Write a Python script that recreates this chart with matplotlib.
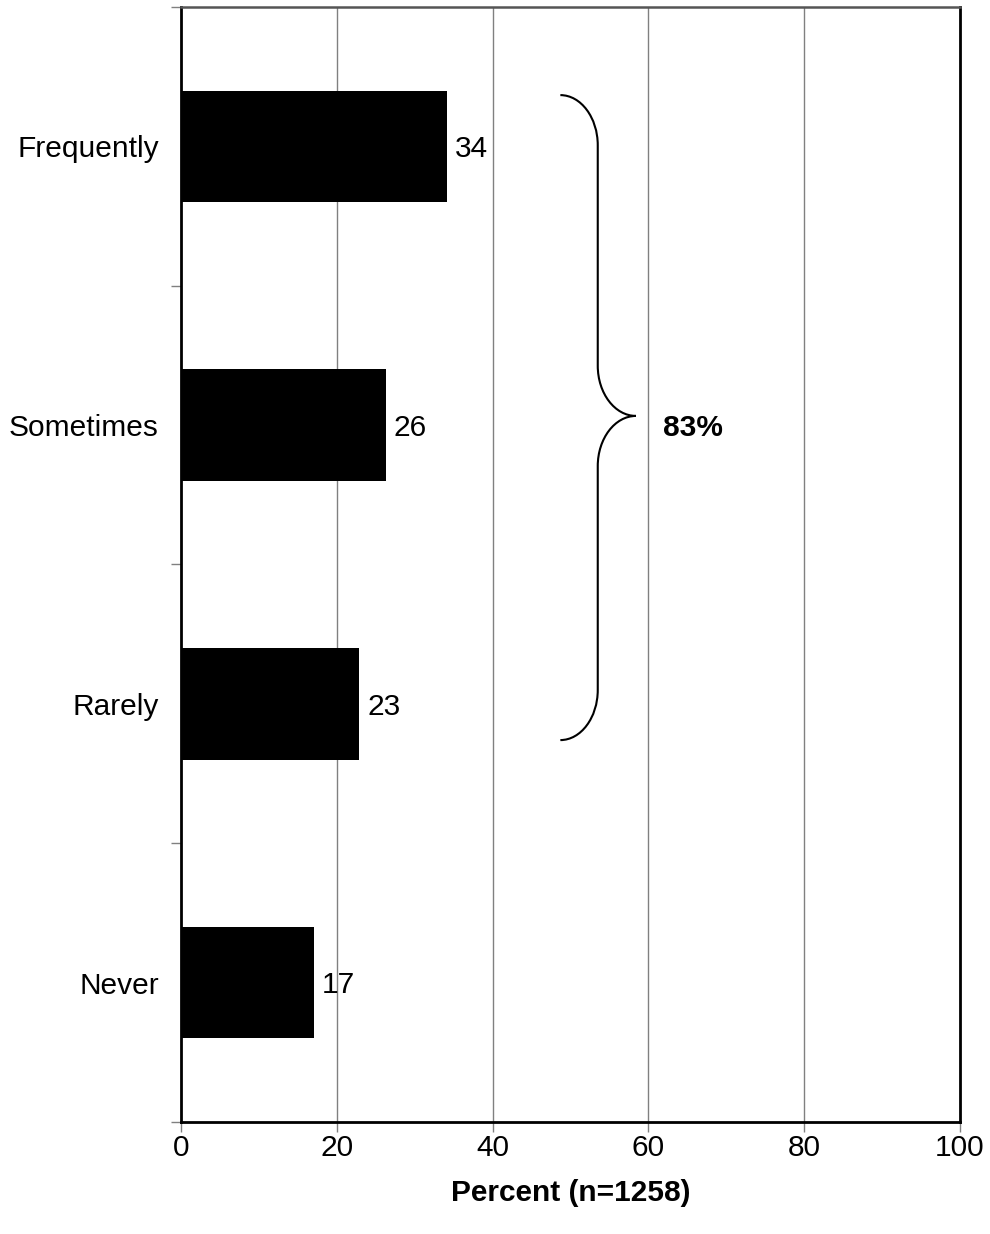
import matplotlib
matplotlib.use('Agg')
import matplotlib.pyplot as plt
from matplotlib.path import Path
from matplotlib.patches import PathPatch

plt.rcParams['font.family'] = ['Liberation Sans', 'DejaVu Sans']

# data
categories = ['Frequently', 'Sometimes', 'Rarely', 'Never']
percents = [34.1, 26.3, 22.9, 17.1]
value_labels = ['34', '26', '23', '17']
total_label = '83%'
xlabel = 'Percent (n=1258)'

FS = 21.5

fig = plt.figure(figsize=(9.9, 12.34), dpi=100)
ax = fig.add_axes([0.1828, 0.0908, 0.7869, 0.9035])

ypos = list(range(len(categories)))
ax.barh(ypos, percents, height=0.40, color='black', zorder=3)

for y, v, lab in zip(ypos, percents, value_labels):
    ax.text(v + 1.0, y + 0.01, lab, va='center', ha='left', fontsize=FS, zorder=4)

ax.set_xlim(0, 100)
ax.set_ylim(len(categories) - 0.5, -0.5)

ax.set_xticks([0, 20, 40, 60, 80, 100])
ax.tick_params(axis='x', direction='out', length=7, width=1, color='gray',
               labelsize=FS, pad=2)
ax.set_yticks(ypos)
ax.set_yticklabels(categories)
ax.tick_params(axis='y', which='major', length=0, labelsize=FS, pad=16)
ax.set_yticks([i - 0.5 for i in range(len(categories) + 1)], minor=True)
ax.tick_params(axis='y', which='minor', direction='out', length=7, width=1,
               color='gray')

for gx in [20, 40, 60, 80]:
    ax.axvline(gx, color='gray', lw=1, zorder=1)

for side in ['left', 'bottom', 'right']:
    ax.spines[side].set_linewidth(2)
    ax.spines[side].set_color('black')
ax.spines['top'].set_linewidth(1.8)
ax.spines['top'].set_color('#555555')

ax.set_xlabel(xlabel, fontsize=FS, fontweight='bold', labelpad=12)

# curly brace spanning the first three bars
x0, x1, xt = 48.7, 53.5, 58.4
ytop, ymid, ybot = -0.184, 0.967, 2.13
r = 0.18
dx = x1 - x0
dt = xt - x1
verts = [
    (x0, ytop),
    (x0 + 0.55 * dx, ytop), (x1, ytop + 0.45 * r), (x1, ytop + r),
    (x1, ymid - r),
    (x1, ymid - 0.45 * r), (x1 + 0.45 * dt, ymid), (xt, ymid),
    (x1 + 0.45 * dt, ymid), (x1, ymid + 0.45 * r), (x1, ymid + r),
    (x1, ybot - r),
    (x1, ybot - 0.45 * r), (x0 + 0.55 * dx, ybot), (x0, ybot),
]
codes = [Path.MOVETO,
         Path.CURVE4, Path.CURVE4, Path.CURVE4,
         Path.LINETO,
         Path.CURVE4, Path.CURVE4, Path.CURVE4,
         Path.CURVE4, Path.CURVE4, Path.CURVE4,
         Path.LINETO,
         Path.CURVE4, Path.CURVE4, Path.CURVE4]
ax.add_patch(PathPatch(Path(verts, codes), fill=False, lw=1.5,
                       edgecolor='black', zorder=4))
ax.text(61.9, 1.01, total_label, fontsize=FS, fontweight='bold',
        va='center', ha='left')

fig.savefig('out.png', dpi=100)
